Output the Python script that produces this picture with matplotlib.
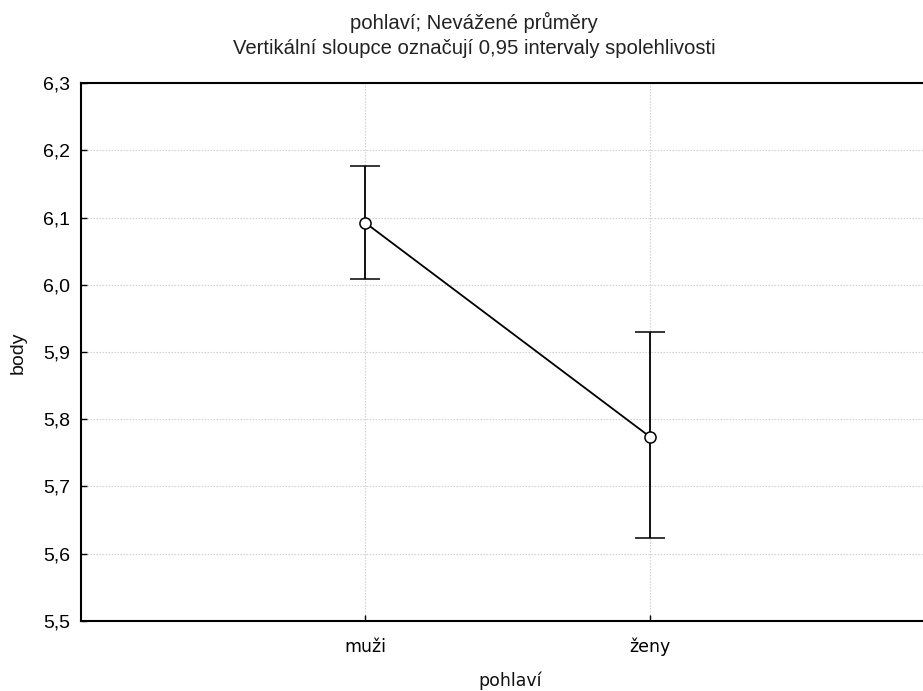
import matplotlib
matplotlib.use("Agg")
import matplotlib.pyplot as plt
from matplotlib.ticker import FuncFormatter, FixedLocator

categories = ["muži", "ženy"]
means = [6.092, 5.774]
ci_upper = [6.177, 5.930]
ci_lower = [6.008, 5.623]
y_ticks = [5.5, 5.6, 5.7, 5.8, 5.9, 6.0, 6.1, 6.2, 6.3]

W, H = 923, 691
fig = plt.figure(figsize=(W / 100, H / 100), dpi=100)
ax = fig.add_axes([81 / W, 70 / H, 853.3 / W, 538 / H])

x = list(range(1, len(categories) + 1))
err_low = [m - l for m, l in zip(means, ci_lower)]
err_high = [u - m for m, u in zip(means, ci_upper)]
ax.errorbar(x, means, yerr=[err_low, err_high], color="black", lw=1.3,
            elinewidth=1.3, capsize=10.8, capthick=1.3, marker="o",
            markersize=8, markerfacecolor="white", markeredgecolor="black",
            markeredgewidth=1.1, zorder=3)

ax.set_xlim(0, len(categories) + 1)
ax.set_ylim(5.5, 6.3)
ax.set_xticks(x)
ax.set_xticklabels(categories, fontfamily="DejaVu Sans", fontsize=12.5)
ax.yaxis.set_major_locator(FixedLocator(y_ticks))
ax.yaxis.set_major_formatter(FuncFormatter(lambda v, p: f"{v:.1f}".replace(".", ",")))
for lbl in ax.get_yticklabels():
    lbl.set_fontfamily("Liberation Sans")
    lbl.set_fontsize(14)
ax.tick_params(axis="both", direction="in", length=4, width=1, color="black")
ax.tick_params(axis="y", pad=8)
ax.tick_params(axis="x", pad=12)

ax.grid(True, color="#cccccc", linestyle=(0, (1.2, 1.5)), linewidth=0.8)
ax.set_axisbelow(True)
for s in ["left", "bottom", "top"]:
    ax.spines[s].set_linewidth(1.5)
    ax.spines[s].set_color("black")
ax.spines["right"].set_visible(False)

fig.text(510 / W, 1 - 681 / H, "pohlaví", ha="center", va="center",
         fontfamily="DejaVu Sans", fontsize=12.5, color="#111111")
fig.text(18 / W, 1 - 353 / H, "body", ha="center", va="center", rotation=90,
         fontfamily="Liberation Sans", fontsize=14, color="#111111")

fig.text(474 / W, 1 - 22 / H, "pohlaví; Nevážené průměry", ha="center", va="center",
         fontfamily="Liberation Sans", fontsize=14.6, color="#222222")
fig.text(474 / W, 1 - 48 / H, "Vertikální sloupce označují 0,95 intervaly spolehlivosti",
         ha="center", va="center", fontfamily="Liberation Sans", fontsize=14.6,
         color="#222222")

fig.savefig("out.png", dpi=100)
